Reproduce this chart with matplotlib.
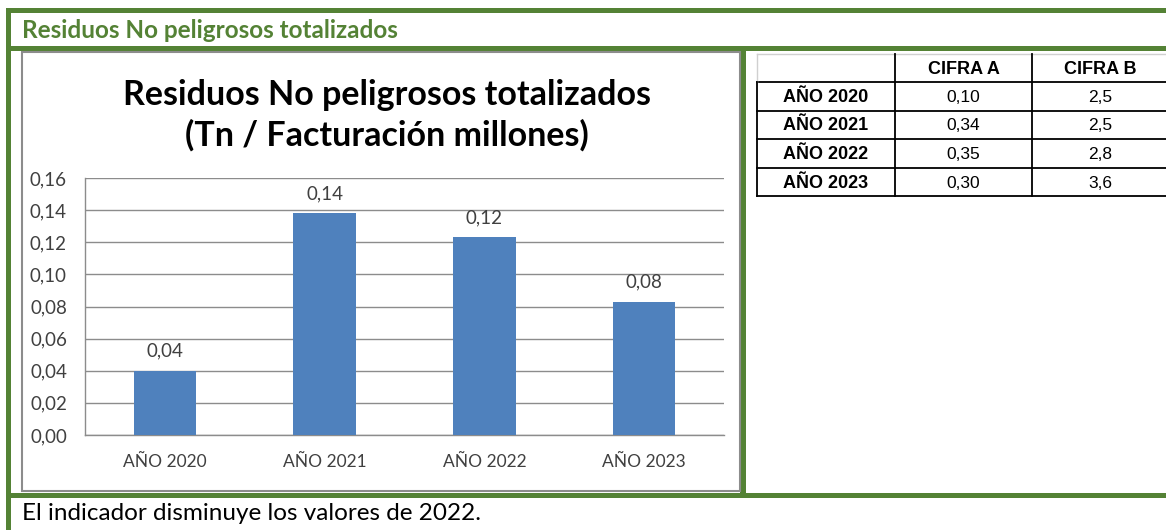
import matplotlib
matplotlib.use('Agg')
from matplotlib import pyplot as plt
from matplotlib.patches import Rectangle
from matplotlib.ticker import FuncFormatter

# datos
anios = ['AÑO 2020', 'AÑO 2021', 'AÑO 2022', 'AÑO 2023']
residuos = [0.040, 0.138, 0.123, 0.083]
etiquetas = ['0,04', '0,14', '0,12', '0,08']
columnas = ['CIFRA A', 'CIFRA B']
cifra_a = ['0,10', '0,34', '0,35', '0,30']
cifra_b = ['2,5', '2,5', '2,8', '3,6']
y_ticks = [0.00, 0.02, 0.04, 0.06, 0.08, 0.10, 0.12, 0.14, 0.16]

VERDE = '#548235'
AZUL = '#4f81bd'
GRIS = '#8c8c8c'
TEXTO = '#404040'
FUENTE = ['Lato', 'DejaVu Sans']
NARROW = ['Liberation Sans Narrow', 'Liberation Sans', 'DejaVu Sans']

W, H = 1166, 530
fig = plt.figure(figsize=(W / 100, H / 100), dpi=100)

# capa de fondo en pixeles para marcos y textos
bg = fig.add_axes([0, 0, 1, 1])
bg.set_xlim(0, W)
bg.set_ylim(H, 0)
bg.axis('off')


def caja(x0, y0, x1, y1, color=VERDE):
    bg.add_patch(Rectangle((x0, y0), x1 - x0, y1 - y0, color=color, lw=0))


# marco verde
caja(6, 8, W, 13)
caja(6, 46, W, 51)
caja(6, 493, W, 498)
caja(6, 8, 11, H)
caja(740, 46, 746, 498)

# borde gris del grafico
bg.add_patch(Rectangle((22, 52), 718, 439, fill=False, ec=GRIS, lw=1.5))

bg.text(22, 30, 'Residuos No peligrosos totalizados', color=VERDE,
        fontsize=17.5, fontweight='bold', family=FUENTE, va='center')
bg.text(387, 95, 'Residuos No peligrosos totalizados', fontsize=24.5,
        fontweight='bold', family=FUENTE, ha='center', va='center')
bg.text(387, 135, '(Tn / Facturación millones)', fontsize=24.5,
        fontweight='bold', family=FUENTE, ha='center', va='center')
bg.text(22, 513, 'El indicador disminuye los valores de 2022.', fontsize=17.5,
        family=FUENTE, va='center')

# tabla
col_x = [757, 895, 1032, 1169]
fila_y = [54, 82, 111, 139, 168, 196]
for y in fila_y[1:]:
    bg.plot([col_x[0], col_x[-1]], [y, y], color='black', lw=1.3)
bg.plot([col_x[0], col_x[-1]], [fila_y[0], fila_y[0]], color='#d0d0d0', lw=1)
bg.plot([col_x[0], col_x[0]], [fila_y[0], fila_y[1]], color='#d0d0d0', lw=1)
bg.plot([col_x[0], col_x[0]], [fila_y[1], fila_y[-1]], color='black', lw=1.3)
for x in col_x[1:]:
    bg.plot([x, x], [fila_y[0], fila_y[-1]], color='black', lw=1.3)

for j, c in enumerate(columnas):
    bg.text((col_x[j + 1] + col_x[j + 2]) / 2, (fila_y[0] + fila_y[1]) / 2 + 1, c,
            fontsize=13, fontweight='bold', family=NARROW, ha='center', va='center')
for i, a in enumerate(anios):
    yc = (fila_y[i + 1] + fila_y[i + 2]) / 2 + 1
    bg.text((col_x[0] + col_x[1]) / 2, yc, a, fontsize=13, fontweight='bold',
            family=NARROW, ha='center', va='center')
    bg.text((col_x[1] + col_x[2]) / 2, yc, cifra_a[i], fontsize=12.5,
            family=NARROW, ha='center', va='center')
    bg.text((col_x[2] + col_x[3]) / 2, yc, cifra_b[i], fontsize=12.5,
            family=NARROW, ha='center', va='center')

# grafico de barras
ax = fig.add_axes([85 / W, (H - 435) / H, (724 - 85) / W, (435 - 178) / H])
ax.set_facecolor('none')
x = range(len(anios))
ax.bar(x, residuos, width=0.39, color=AZUL, zorder=3)
for i, (v, t) in enumerate(zip(residuos, etiquetas)):
    ax.annotate(t, (i, v), xytext=(0, 14), textcoords='offset points',
                ha='center', va='center', fontsize=13.5, color=TEXTO, family=FUENTE)

ax.set_xlim(-0.5, len(anios) - 0.5)
ax.set_ylim(0, 0.16)
ax.set_yticks(y_ticks)
ax.yaxis.set_major_formatter(FuncFormatter(lambda v, p: f'{v:.2f}'.replace('.', ',')))
ax.set_xticks(list(x))
ax.set_xticklabels(anios)
ax.grid(axis='y', color=GRIS, lw=1, zorder=0)
for s in ['top', 'right']:
    ax.spines[s].set_visible(False)
for s in ['left', 'bottom']:
    ax.spines[s].set_color(GRIS)
    ax.spines[s].set_linewidth(1)
ax.tick_params(axis='y', length=0, pad=13, labelsize=13.5, labelcolor=TEXTO)
ax.tick_params(axis='x', length=0, pad=14, labelsize=12.5, labelcolor=TEXTO)
for lab in ax.get_xticklabels() + ax.get_yticklabels():
    lab.set_family(FUENTE)

fig.savefig('out.png', dpi=100)
